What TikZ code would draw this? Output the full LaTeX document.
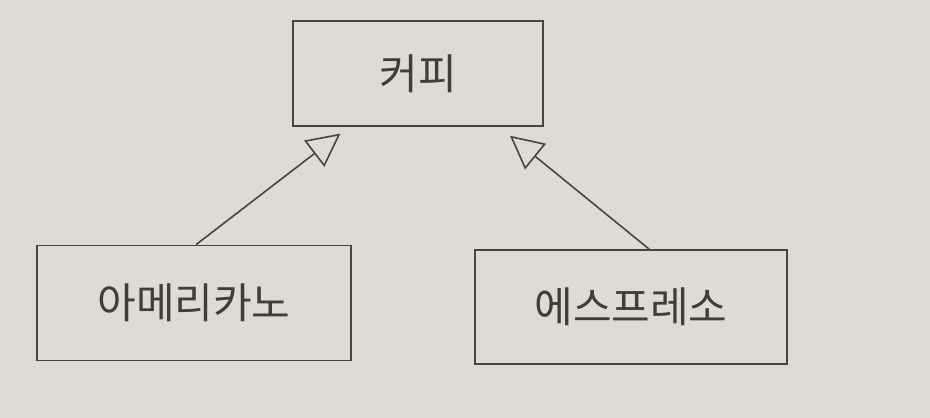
\documentclass[tikz,border=0pt]{standalone}
\usepackage{fontspec}
\newfontfamily\kr{Noto Sans CJK KR}
\usetikzlibrary{arrows.meta,calc}
\definecolor{paper}{RGB}{222,219,211}
\definecolor{ink}{RGB}{72,68,64}
\begin{document}
\begin{tikzpicture}[x=1pt,y=-1pt,
  box/.style={draw=ink,line width=1.8pt,rectangle,inner sep=0pt,font=\kr\fontsize{42}{50}\selectfont,text=ink!90!black},
  inherit/.style={draw=ink,line width=1.6pt,-{Triangle[open,length=33pt,width=33pt,line width=1.6pt]}}]
\fill[paper] (0,0) rectangle (930,418);
\useasboundingbox (0,0) rectangle (930,418);
\node[box,minimum width=250pt,minimum height=105pt] (coffee) at (418,73.5) {커피};
\node[box,minimum width=314pt,minimum height=115pt] (americano) at (194,303) {아메리카노};
\node[box,minimum width=312pt,minimum height=114pt] (espresso) at (631,307) {에스프레소};
\draw[inherit,shorten >=11pt] ($(americano.north west)+(160,0)$) -- ($(coffee.south west)+(57,0)$);
\draw[inherit,shorten >=14pt] ($(espresso.north west)+(175,0)$) -- ($(coffee.south west)+(207,0)$);
\end{tikzpicture}
\end{document}
